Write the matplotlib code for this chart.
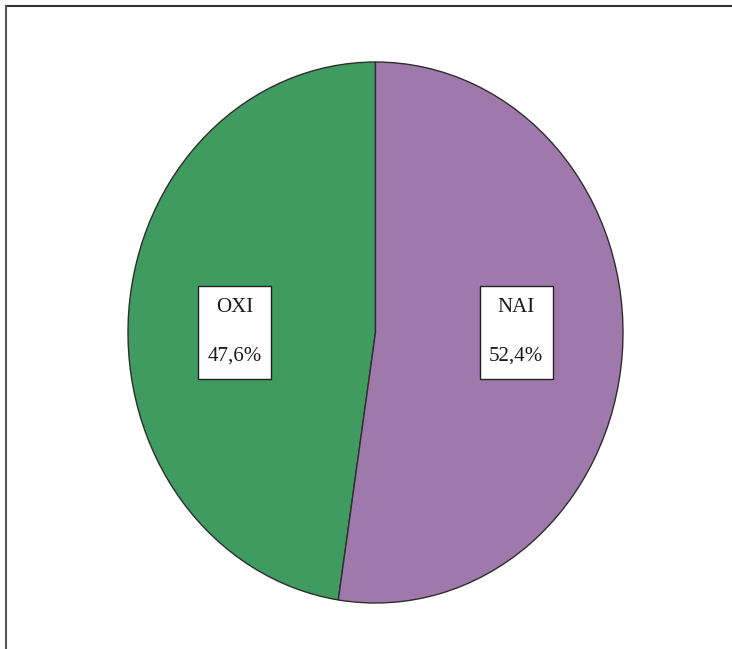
import numpy as np
import matplotlib
matplotlib.use("Agg")
import matplotlib.pyplot as plt
import matplotlib.transforms as mtransforms
from matplotlib.patches import Rectangle
from matplotlib.lines import Line2D

labels = ["OXI", "NAI"]
shares = [47.6, 52.4]
pct_text = ["47,6%", "52,4%"]
colors = ["#3f9b5f", "#a079ac"]

plt.rcParams['font.family'] = ['Liberation Serif', 'DejaVu Serif']

fig = plt.figure(figsize=(7.32, 6.49), dpi=100)
fig.patch.set_facecolor('white')

# frame lines of the scanned box (top and left only)
fig.add_artist(Line2D([6 / 732, 1.0], [1 - 6 / 649, 1 - 6 / 649], color='#333333', lw=1.5))
fig.add_artist(Line2D([6 / 732, 6 / 732], [0.0, 1 - 6 / 649], color='#555555', lw=1.5))

# the pie is drawn stretched (taller than wide)
ax = fig.add_axes([128 / 732, 46 / 649, 495 / 732, 541 / 649])
wedges, _ = ax.pie(shares, colors=colors, startangle=90, counterclock=True,
                   wedgeprops={'edgecolor': '#2e2e2e', 'linewidth': 1.0})
ax.set_aspect('auto')
ax.set_xlim(-1, 1)
ax.set_ylim(-1, 1)
ax.axis('off')

fig.canvas.draw()
for w, name, pct in zip(wedges, labels, pct_text):
    mid = np.deg2rad((w.theta1 + w.theta2) / 2)
    # labels sit at mid height, inside each half
    x, y = 0.57 * np.cos(mid), 0.0
    px, py = ax.transData.transform((x, y))
    tr = mtransforms.Affine2D().translate(px, py)
    box = Rectangle((-36.5, -46.5), 73, 93, transform=tr, facecolor='white',
                    edgecolor='#222222', linewidth=1.0, zorder=5, clip_on=False)
    ax.add_artist(box)
    ax.annotate(name, (x, y), xytext=(0, 25), textcoords='offset pixels',
                ha='center', va='center', fontsize=15, color='#1a1a1a', zorder=6)
    ax.annotate(pct, (x, y), xytext=(0, -24), textcoords='offset pixels',
                ha='center', va='center', fontsize=15, color='#1a1a1a', zorder=6)

fig.savefig("out.png", dpi=100)
